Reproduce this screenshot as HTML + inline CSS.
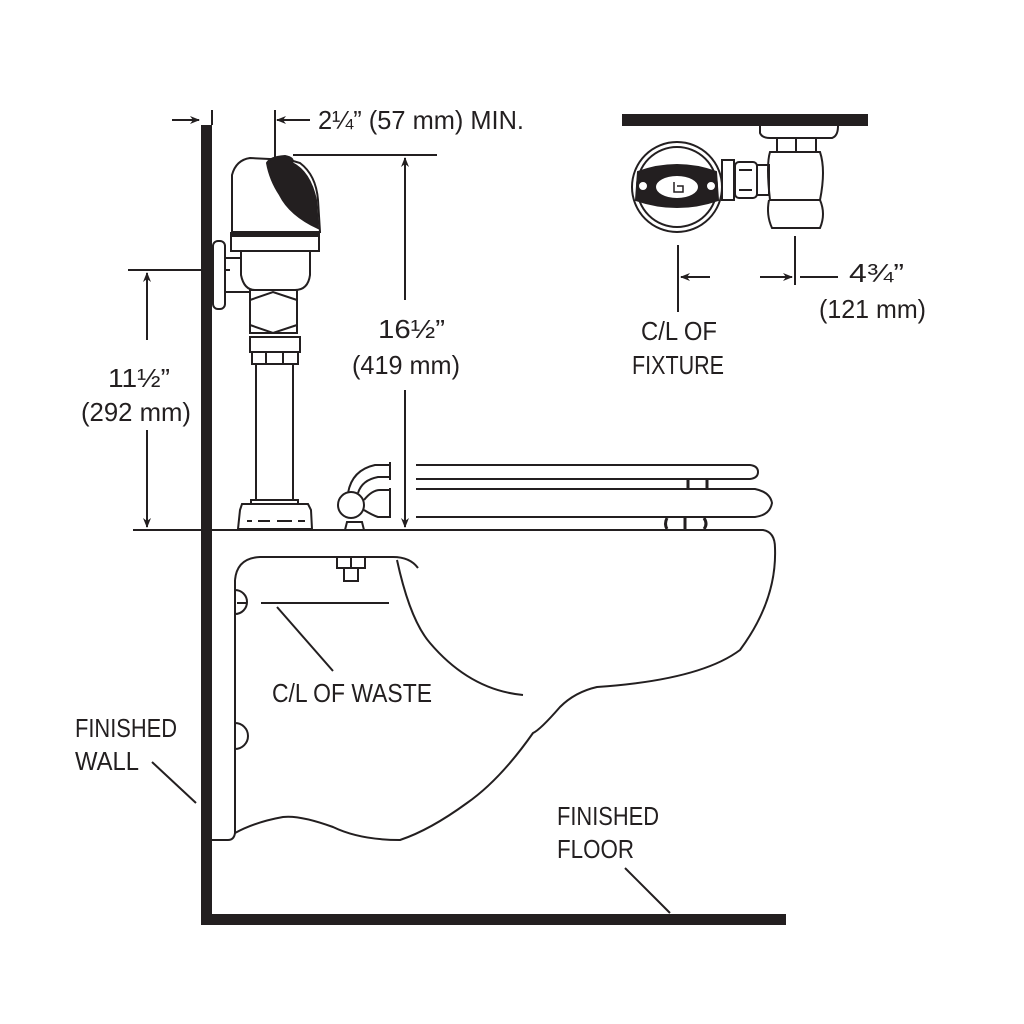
<!DOCTYPE html>
<html><head><meta charset="utf-8"><style>
html,body{margin:0;padding:0;background:#fff;}
svg{display:block;}
text{font-family:"Liberation Sans",sans-serif;fill:#231f20;font-size:26px;}
</style></head><body>
<svg width="1024" height="1024" viewBox="0 0 1024 1024" xmlns="http://www.w3.org/2000/svg">
<defs>
<marker id="ah" markerWidth="10" markerHeight="10" refX="9" refY="5" orient="auto" markerUnits="userSpaceOnUse">
<path d="M0,1 L10,5 L0,9 L3,5 Z" fill="#231f20"/>
</marker>
</defs>
<g stroke="#231f20" fill="none" stroke-width="2">
<rect x="201" y="125" width="11" height="800" fill="#231f20" stroke="none"/>
<rect x="201" y="914" width="585" height="11" fill="#231f20" stroke="none"/>
<rect x="622" y="114" width="246" height="12" fill="#231f20" stroke="none"/>

<line x1="172" y1="120" x2="199" y2="120" marker-end="url(#ah)"/>
<line x1="212" y1="110" x2="212" y2="125"/>
<line x1="275" y1="110" x2="275" y2="160"/>
<line x1="310" y1="120" x2="277" y2="120" marker-end="url(#ah)"/>
<line x1="293" y1="155" x2="437" y2="155"/>
<line x1="405" y1="300" x2="405" y2="158" marker-end="url(#ah)"/>
<line x1="405" y1="390" x2="405" y2="527" marker-end="url(#ah)"/>
<line x1="128" y1="270" x2="230" y2="270"/>
<line x1="147" y1="340" x2="147" y2="273" marker-end="url(#ah)"/>
<line x1="147" y1="430" x2="147" y2="527" marker-end="url(#ah)"/>
<line x1="133" y1="530" x2="236" y2="530"/>

<path d="M232,175 Q236,160 250,158 L290,160 L300,163 Q316,175 318,200 L320,232 L232,232 Z" fill="#fff"/>
<path d="M267,163 Q270,157 285,156 Q295,158 292,163 Q310,172 316,200 L318,228 Q290,215 280,195 Q270,180 267,163 Z" fill="#231f20"/>
<rect x="230" y="232" width="90" height="5" fill="#231f20" stroke="none"/>
<rect x="231" y="236" width="88" height="15" fill="#fff"/>
<path d="M241,251 L241,275 Q244,290 255,290 L295,290 Q308,290 310,275 L310,251"/>
<rect x="213" y="241" width="12" height="68" rx="5" fill="#fff"/>
<path d="M225,258 L241,258 M225,292 L250,292"/>
<path d="M250,290 L297,290 L297,333 L250,333 Z"/>
<path d="M250,300 L273,292 L297,300 M250,325 L273,333 L297,325"/>
<rect x="250" y="337" width="50" height="15" fill="#fff"/>
<rect x="252" y="352" width="46" height="12" fill="#fff"/>
<path d="M266,352 L266,364 M283,352 L283,364"/>
<path d="M256,364 L256,500 M293,364 L293,500"/>
<path d="M251,500 L298,500 L298,504 L251,504 Z"/>
<path d="M240,510 L242,504 L308,504 L311,510 L312,529 L238,529 Z"/>
<path d="M247,521 L252,521 M258,521 L270,521 M277,521 L292,521 M298,521 L305,521"/>

<path d="M345,530 L347,522 L362,522 L364,530 Z"/>
<circle cx="351" cy="505" r="13" fill="#fff"/>
<path d="M348,493 Q352,470 375,465 L390,465 M358,493 Q362,480 378,477 L390,477 M364,500 Q372,490 380,490 L390,490 M364,510 Q372,515 378,517 L390,517"/>
<path d="M390,462 L390,480 M390,488 L390,518"/>
<path d="M416,465 L750,465 Q758,466 758,472 Q758,478 750,479 L416,479"/>
<path d="M416,489 L755,489 Q770,492 772,503 Q770,515 755,517 L416,517"/>
<path d="M688,479 L688,489 M707,479 L707,489" stroke-width="3"/>
<path d="M667,518 Q664,524 667,529 M685,518 L685,529 M704,518 Q708,524 704,529" stroke-width="3"/>

<path d="M212,530 L763,530 Q775,532 775,548 Q777,600 740,650 Q700,680 597,687 Q575,692 560,707 Q540,730 533,733 Q500,780 467,803 Q430,830 400,840 Q360,840 333,827 Q300,815 283,817 Q255,822 235,833"/>
<path d="M235,580 Q237,558 260,557 L393,557 Q410,557 418,568"/>
<path d="M397,560 Q410,620 430,643 Q470,690 523,695"/>
<path d="M235,580 L235,833 Q234,840 228,840 L212,840" />
<path d="M235,590 A12,12 0 0 1 235,614 M235,723 A12,12 0 0 1 235,749"/>
<path d="M237,603 L247,603 M261,603 L389,603"/>
<path d="M337,557 L337,568 L365,568 L365,557 M351,557 L351,568 M344,568 L344,581 L358,581 L358,568"/>
<line x1="277" y1="607" x2="333" y2="671"/>
<line x1="152" y1="762" x2="196" y2="803"/>
<line x1="625" y1="868" x2="670" y2="913"/>

<path d="M760,126 L760,133 Q762,138 770,138 L832,138 Q838,136 838,126"/>
<path d="M777,139 L777,152 L816,152 L816,139 M796,139 L796,152"/>
<path d="M770,152 Q766,165 770,200 L820,200 Q826,170 820,152 Z" fill="#fff"/>
<path d="M769,200 Q766,215 772,228 L820,228 Q826,214 820,200"/>
<rect x="722" y="160" width="12" height="40"/>
<rect x="735" y="162" width="22" height="36" rx="4"/>
<path d="M739,170 L752,170 M739,190 L752,190"/>
<rect x="757" y="165" width="12" height="30"/>
<circle cx="677" cy="187" r="45" fill="#fff"/>
<circle cx="677" cy="187" r="40"/>
<path d="M638,172 Q677,158 716,172 L718,200 Q677,214 636,200 Z" fill="#231f20"/>
<ellipse cx="677" cy="187" rx="22" ry="12" fill="#fff"/>
<circle cx="643" cy="186" r="5" fill="#fff"/><circle cx="711" cy="186" r="5" fill="#fff"/>
<path d="M674,182 L674,192 L683,192 L683,186 L677,186" stroke-width="1.5"/>
<line x1="678" y1="245" x2="678" y2="312"/>
<line x1="795" y1="236" x2="795" y2="285"/>
<line x1="710" y1="277" x2="681" y2="277" marker-end="url(#ah)"/>
<line x1="760" y1="277" x2="792" y2="277" marker-end="url(#ah)"/>
<line x1="800" y1="277" x2="838" y2="277"/>
</g>

<text x="318" y="129" textLength="206" lengthAdjust="spacingAndGlyphs">2¼” (57 mm) MIN.</text>
<text x="378" y="338" textLength="67" lengthAdjust="spacingAndGlyphs">16½”</text>
<text x="352" y="374" textLength="108" lengthAdjust="spacingAndGlyphs">(419 mm)</text>
<text x="108" y="387" textLength="62" lengthAdjust="spacingAndGlyphs">11½”</text>
<text x="81" y="421" textLength="110" lengthAdjust="spacingAndGlyphs">(292 mm)</text>
<text x="849" y="282" textLength="55" lengthAdjust="spacingAndGlyphs">4¾”</text>
<text x="819" y="318" textLength="107" lengthAdjust="spacingAndGlyphs">(121 mm)</text>
<text x="641" y="340" textLength="76" lengthAdjust="spacingAndGlyphs">C/L OF</text>
<text x="632" y="374" textLength="92" lengthAdjust="spacingAndGlyphs">FIXTURE</text>
<text x="272" y="702" textLength="160" lengthAdjust="spacingAndGlyphs">C/L OF WASTE</text>
<text x="75" y="737" textLength="102" lengthAdjust="spacingAndGlyphs">FINISHED</text>
<text x="75" y="770" textLength="64" lengthAdjust="spacingAndGlyphs">WALL</text>
<text x="557" y="825" textLength="102" lengthAdjust="spacingAndGlyphs">FINISHED</text>
<text x="557" y="858" textLength="77" lengthAdjust="spacingAndGlyphs">FLOOR</text>
</svg>
</body></html>
